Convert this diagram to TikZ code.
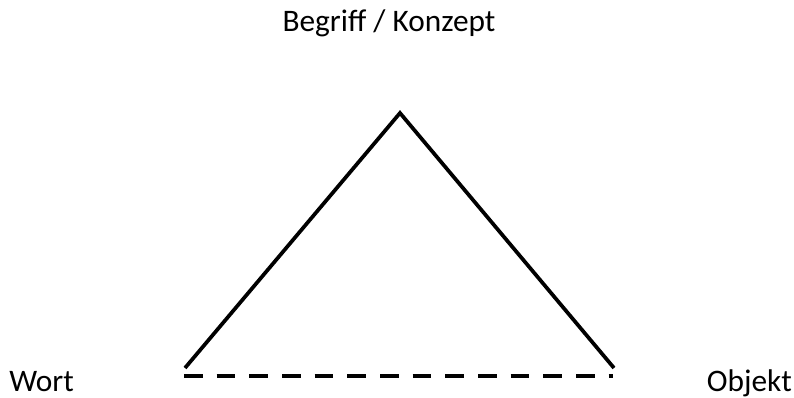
\documentclass[tikz,border=0pt]{standalone}
\usepackage{fontspec}
\setmainfont{Carlito}
\usepackage{tikz}
\usetikzlibrary{positioning, calc}
\tikzset{
    side/.style={
        line width=2.8pt
    },
    dashside/.style={
        line width=3pt,
        dash pattern=on 14pt off 10.5pt
    },
    label/.style={
        font=\fontsize{23.5}{28}\selectfont,
        inner sep=0pt
    }
}
\begin{document}
\begin{tikzpicture}[x=0.75pt, y=-0.75pt]
      \useasboundingbox (0,0) rectangle (794,398);

      \coordinate (top)   at (400, 113);
      \coordinate (left)  at (185, 368);
      \coordinate (right) at (614, 368);
      \coordinate (dl)    at (184, 376);
      \coordinate (dr)    at (613, 376);

      \node[label, anchor=base]      (begriff) at (389, 32)  {Begriff / Konzept};
      \node[label, anchor=base west] (wort)    at (9, 392)   {Wort};
      \node[label, anchor=base east] (objekt)  at (792, 392) {Objekt};

      \draw[side] (left) -- (top) -- (right);
      \draw[dashside] (dl) -- (dr);
    \end{tikzpicture}
\end{document}
